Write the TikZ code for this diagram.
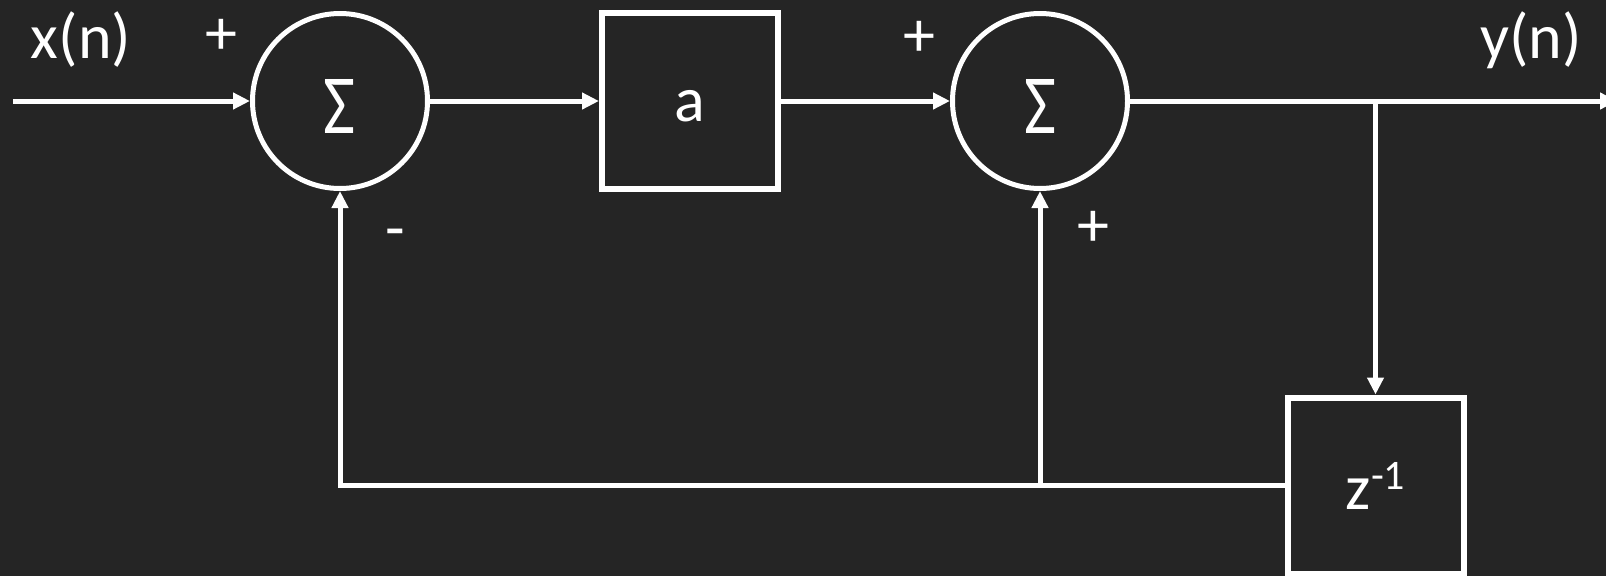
\documentclass[tikz,border=0pt]{standalone}
\usepackage{fontspec}
\usepackage{graphicx}
\setmainfont{Carlito}
\usetikzlibrary{arrows.meta}
\definecolor{bgdark}{HTML}{252525}

\begin{document}
\begin{tikzpicture}[x=1pt,y=-1pt,
		wire/.style={white,line width=5pt},
		feed/.style={wire,-{Triangle[length=17pt,width=16pt]}},
		summer/.style={circle,draw=white,line width=5pt,minimum size=175pt,inner sep=0pt,text=white},
		blockbox/.style={draw=white,line width=6pt,minimum size=176pt,inner sep=0pt,text=white,font=\fontsize{64}{64}\selectfont},
		lbl/.style={text=white,inner sep=0pt,font=\fontsize{64}{64}\selectfont}]
		\fill[bgdark] (0,0) rectangle (1606,576);
		\useasboundingbox (0,0) rectangle (1606,576);
		
		% blocks
		\node[summer] (sum1) at (340,101) {\smash{\raisebox{-32pt}{\resizebox{32pt}{54pt}{Σ}}}};
		\node[blockbox] (amp) at (690,101) {\smash{\raisebox{-20pt}{a}}};
		\node[summer] (sum2) at (1040,101) {\smash{\raisebox{-32pt}{\resizebox{32pt}{54pt}{Σ}}}};
		\node[blockbox] (delay) at (1375.5,485.5) {z\raisebox{20pt}{\fontsize{42}{42}\selectfont -1}};
		
		\coordinate (xin) at (13,101);
		\coordinate (yout) at (1617,101);
		\coordinate (tap) at (1375.5,101);
		
		% forward path
		\draw[feed] (xin) -- (sum1);
		\draw[feed] (sum1) -- (amp);
		\draw[feed] (amp) -- (sum2);
		\draw[feed] (sum2) -- (yout);
		
		% feedback
		\draw[feed] (tap) -- (delay.north);
		\draw[feed] (delay.west) -| (sum1.south);
		\draw[feed] (sum2.south |- delay.west) -- (sum2.south);
		
		\node[lbl] (xlab) at (81,40) {x(n)};
		\node[lbl] (ylab) at (1531,40) {y(n)};
		\node[lbl] (plusa) at (221,37) {+};
		\node[lbl] (plusb) at (919,39) {+};
		\node[lbl] (plusc) at (1093,229) {+};
		\node[lbl] (minus) at (395,239) {-};
	\end{tikzpicture}
\end{document}
